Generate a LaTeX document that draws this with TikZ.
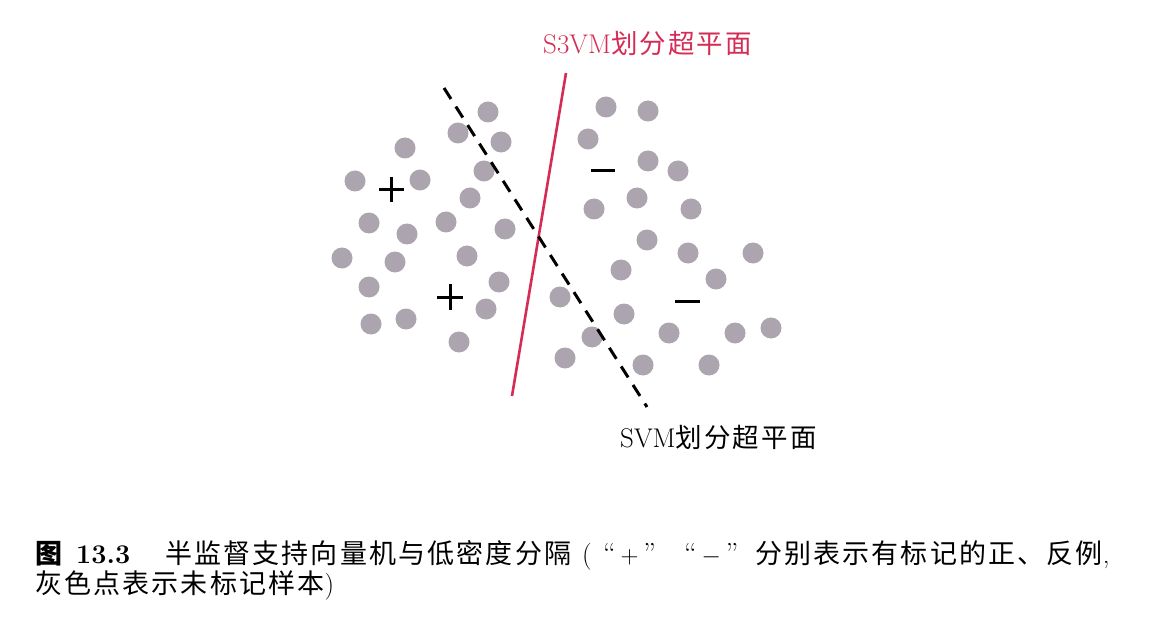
\documentclass[tikz,border=0pt]{standalone}
\usepackage{fontspec}
\newfontfamily\cjk[LetterSpace=8]{Noto Sans CJK SC}
\definecolor{dotgray}{RGB}{172,164,174}
\definecolor{s3red}{RGB}{212,44,84}
\tikzset{
  dot/.style={circle, fill=dotgray, draw=none, minimum size=21pt, inner sep=0pt},
  signline/.style={line width=3pt, black},
  s3line/.style={line width=2.6pt, s3red},
  svmline/.style={line width=3pt, black, dash pattern=on 13pt off 9pt},
  lbl/.style={anchor=base west, inner sep=0pt, font=\fontsize{27}{30}\selectfont},
  captext/.style={anchor=base west, inner sep=0pt, font=\fontsize{27}{30}\selectfont},
  quotetext/.style={captext, font=\fontsize{29}{32}\selectfont},
}
\begin{document}
\begin{tikzpicture}[x=1pt, y=-1pt]
\fill[white] (0,0) rectangle (1150,628);
\useasboundingbox (0,0) rectangle (1150,628);
% unlabeled points
\foreach \px/\py [count=\i] in {
 488/112, 458/133, 501/142, 405/148, 355/181, 420/180, 484/171, 470/198,
 369/223, 407/234, 446/222, 505/229, 342/258, 395/262, 467/256, 369/287,
 499/282, 486/309, 371/324, 406/319, 459/342, 560/297, 565/358,
 606/107, 648/111, 588/139, 648/161, 678/171, 594/209, 637/198, 691/209,
 647/240, 688/253, 753/253, 621/270, 716/279, 624/314, 592/337, 669/333,
 735/333, 771/328, 643/365, 709/365}
  \node[dot] (u\i) at (\px,\py) {};
% separators
\coordinate (s3top) at (566,73);
\coordinate (s3bot) at (512,396);
\coordinate (svtop) at (444,88);
\coordinate (svbot) at (647,407);
\draw[s3line] (s3top) -- (s3bot);
\draw[svmline] (svtop) -- (svbot);
% labelled examples
\draw[signline] (379,189.5) -- (404,189.5) (391.5,177) -- (391.5,202);
\draw[signline] (437,297) -- (463,297) (450,284) -- (450,310);
\draw[signline] (591,171) -- (615,171);
\draw[signline] (675,301) -- (700,301);
% labels
\node[lbl, text=s3red] (ls3) at (543,54) {S3VM{\cjk\fontsize{26.5}{28}\selectfont 划分超平面}};
\node[lbl] (lsvm) at (620,447) {SVM{\cjk\fontsize{26.5}{28}\selectfont 划分超平面}};
% caption
\node[captext] (c1) at (35,563) {\cjk\bfseries 图};
\node[captext] (c2) at (76,563) {\bfseries 13.3};
\node[captext] (c3) at (165,563) {\cjk 半监督支持向量机与低密度分隔};
\node[captext] (c4) at (582,563) {(};
\node[quotetext] (c5) at (603,563) {“\,$+$\,”};
\node[quotetext] (c6) at (684,563) {“\,$-$\,”};
\node[captext] (c7) at (755,563) {{\cjk 分别表示有标记的正、反例},};
\node[captext] (c8) at (35,593) {{\cjk 灰色点表示未标记样本})};
\end{tikzpicture}
\end{document}
